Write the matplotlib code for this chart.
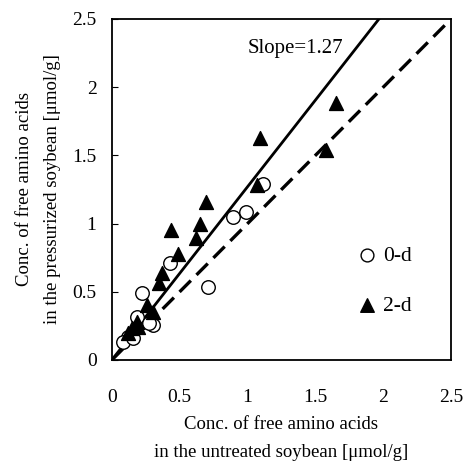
import matplotlib
matplotlib.use("Agg")
import matplotlib.pyplot as plt
import numpy as np

plt.rcParams['font.family'] = ['Liberation Serif', 'DejaVu Serif']

# 0-d (open circles): untreated vs pressurized
x_0d = [1.116, 0.895, 0.986, 0.428, 0.711, 0.224, 0.187, 0.305, 0.275, 0.12, 0.079, 0.157]
y_0d = [1.29, 1.046, 1.083, 0.709, 0.533, 0.494, 0.318, 0.257, 0.274, 0.171, 0.134, 0.159]

# 2-d (filled triangles)
x_2d = [1.652, 1.091, 1.576, 1.067, 0.693, 0.649, 0.433, 0.617, 0.489, 0.366, 0.349,
        0.261, 0.305, 0.182, 0.145, 0.194, 0.12]
y_2d = [1.886, 1.625, 1.54, 1.283, 1.161, 0.997, 0.953, 0.892, 0.777, 0.635, 0.562,
        0.403, 0.354, 0.281, 0.232, 0.244, 0.198]

slope = 1.27
ticks = [0, 0.5, 1, 1.5, 2, 2.5]
tick_labels = ['0', '0.5', '1', '1.5', '2', '2.5']

fig = plt.figure(figsize=(4.66, 4.63), dpi=100)
ax = fig.add_axes([0.240, 0.2225, 0.728, 0.7365])

# Regression line (slope 1.27) and 1:1 line
xs = np.array([0, 2.5 / slope])
ax.plot(xs, slope * xs, color='black', lw=2.0, zorder=2)
ax.plot([0, 2.5], [0, 2.5], color='black', lw=2.4, dashes=(4.8, 2.4), zorder=2)

ax.scatter(x_0d, y_0d, s=95, marker='o', facecolors='white', edgecolors='black',
           linewidths=1.0, zorder=3)
ax.scatter(x_2d, y_2d, s=100, marker='^', color='black', zorder=4)

# legend drawn by hand inside the plot
ax.scatter([1.88], [0.77], s=85, marker='o', facecolors='white', edgecolors='black',
           linewidths=1.0, zorder=3)
ax.text(2.0, 0.76, '0-d', fontsize=15.5, va='center', ha='left')
ax.scatter([1.88], [0.40], s=95, marker='^', color='black', zorder=3)
ax.text(2.0, 0.39, '2-d', fontsize=15.5, va='center', ha='left')

ax.text(1.0, 2.28, 'Slope=1.27', fontsize=15, va='center', ha='left')

ax.set_xlim(0, 2.5)
ax.set_ylim(0, 2.5)
ax.set_xticks(ticks)
ax.set_xticklabels(tick_labels)
ax.set_yticks(ticks)
ax.set_yticklabels(tick_labels)
ax.tick_params(axis='x', length=0, pad=21, labelsize=14)
ax.tick_params(axis='y', direction='in', length=4, pad=11, labelsize=14)

for sp in ax.spines.values():
    sp.set_linewidth(1.3)

ax.set_xlabel('Conc. of free amino acids\nin the untreated soybean [\u03bcmol/g]',
              fontsize=13.5, linespacing=1.85, labelpad=7)
ax.set_ylabel('Conc. of free amino acids\nin the pressurized soybean [\u03bcmol/g]',
              fontsize=13.5, linespacing=1.85, labelpad=8)

fig.savefig('out.png', dpi=100)
